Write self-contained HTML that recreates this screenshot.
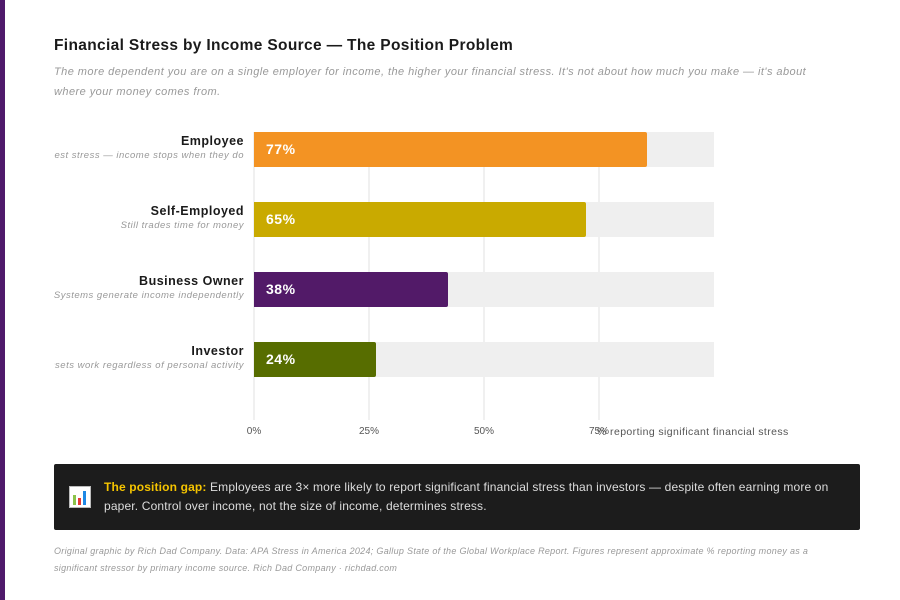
<!DOCTYPE html>
<html><head><meta charset="utf-8"><style>
*{margin:0;padding:0;box-sizing:border-box}
body{width:900px;height:600px;background:#fff;position:relative;overflow:hidden;font-family:"Liberation Sans",sans-serif;color:#1a1a1a}
.side{position:absolute;left:0;top:0;width:5px;height:600px;background:#4f1a6b}
.a{position:absolute;white-space:nowrap}
.title{left:54px;top:37px;font-size:15.5px;font-weight:bold;letter-spacing:0.34px}
.sub{left:54px;top:62px;font-size:11px;font-style:italic;color:#999;line-height:20px;width:785px;white-space:normal;letter-spacing:0.45px}
.lab{left:54px;width:190px;text-align:right;overflow:hidden}
.lab b{display:block;font-size:12.5px;color:#1a1a1a;letter-spacing:0.5px}
.lab i{display:block;font-size:9.5px;color:#999;margin-top:2px;direction:rtl;letter-spacing:0.5px}
.track{position:absolute;left:254px;width:460px;height:35px;background:#efefef}
.bar{position:absolute;left:254px;height:35px;border-radius:0 2px 2px 0;color:#fff;font-weight:bold;font-size:14px;line-height:35px;padding-left:12px;letter-spacing:0.5px}
.grid{position:absolute;top:132px;width:2px;height:288px;background:#f0f0f0}
.tick{top:426px;font-size:10px;color:#555;transform:translateX(-50%)}
.box{position:absolute;left:54px;top:464px;width:806px;height:66px;background:#1c1c1c;border-radius:2px}
.box .t{position:absolute;left:50px;top:14px;width:740px;color:#ddd;font-size:12px;line-height:19px;letter-spacing:0.15px}
.foot{left:54px;top:543px;font-size:9px;font-style:italic;color:#999;line-height:17px;width:800px;white-space:normal;letter-spacing:0.3px}
</style></head><body>
<div class="side"></div>
<div class="a title">Financial Stress by Income Source — The Position Problem</div>
<div class="a sub">The more dependent you are on a single employer for income, the higher your financial stress. It's not about how much you make — it's about<br>where your money comes from.</div>
<div class="grid" style="left:253px"></div><div class="grid" style="left:368px"></div><div class="grid" style="left:483px"></div><div class="grid" style="left:598px"></div>
<div class="track" style="top:132px"></div><div class="bar" style="top:132px;width:393px;background:#f39323">77%</div>
<div class="track" style="top:202px"></div><div class="bar" style="top:202px;width:332px;background:#c9aa00">65%</div>
<div class="track" style="top:272px"></div><div class="bar" style="top:272px;width:194px;background:#521a68">38%</div>
<div class="track" style="top:342px"></div><div class="bar" style="top:342px;width:122px;background:#576d00">24%</div>
<div class="a lab" style="top:134px"><b>Employee</b><i>Highest stress — income stops when they do</i></div>
<div class="a lab" style="top:204px"><b>Self-Employed</b><i>Still trades time for money</i></div>
<div class="a lab" style="top:274px"><b>Business Owner</b><i>Systems generate income independently</i></div>
<div class="a lab" style="top:344px"><b>Investor</b><i>Assets work regardless of personal activity</i></div>
<div class="a tick" style="left:254px">0%</div>
<div class="a tick" style="left:369px">25%</div>
<div class="a tick" style="left:484px">50%</div>
<div class="a tick" style="left:599px">75%</div>
<div class="a" style="left:597px;top:426px;font-size:10.5px;color:#555;letter-spacing:0.4px">% reporting significant financial stress</div>
<div class="box">
<svg style="position:absolute;left:15px;top:22px" width="22" height="22" viewBox="0 0 22 22"><rect x="0.5" y="0.5" width="21" height="21" fill="#fff" stroke="#bbb"/><rect x="4" y="9" width="3" height="10" fill="#8bc34a"/><rect x="9" y="12" width="3" height="7" fill="#e53935"/><rect x="14" y="5" width="3" height="14" fill="#1e88e5"/></svg>
<div class="t"><b style="color:#f5c400">The position gap:</b> Employees are 3× more likely to report significant financial stress than investors — despite often earning more on paper. Control over income, not the size of income, determines stress.</div>
</div>
<div class="a foot">Original graphic by Rich Dad Company. Data: APA Stress in America 2024; Gallup State of the Global Workplace Report. Figures represent approximate % reporting money as a significant stressor by primary income source. Rich Dad Company · richdad.com</div>
</body></html>
